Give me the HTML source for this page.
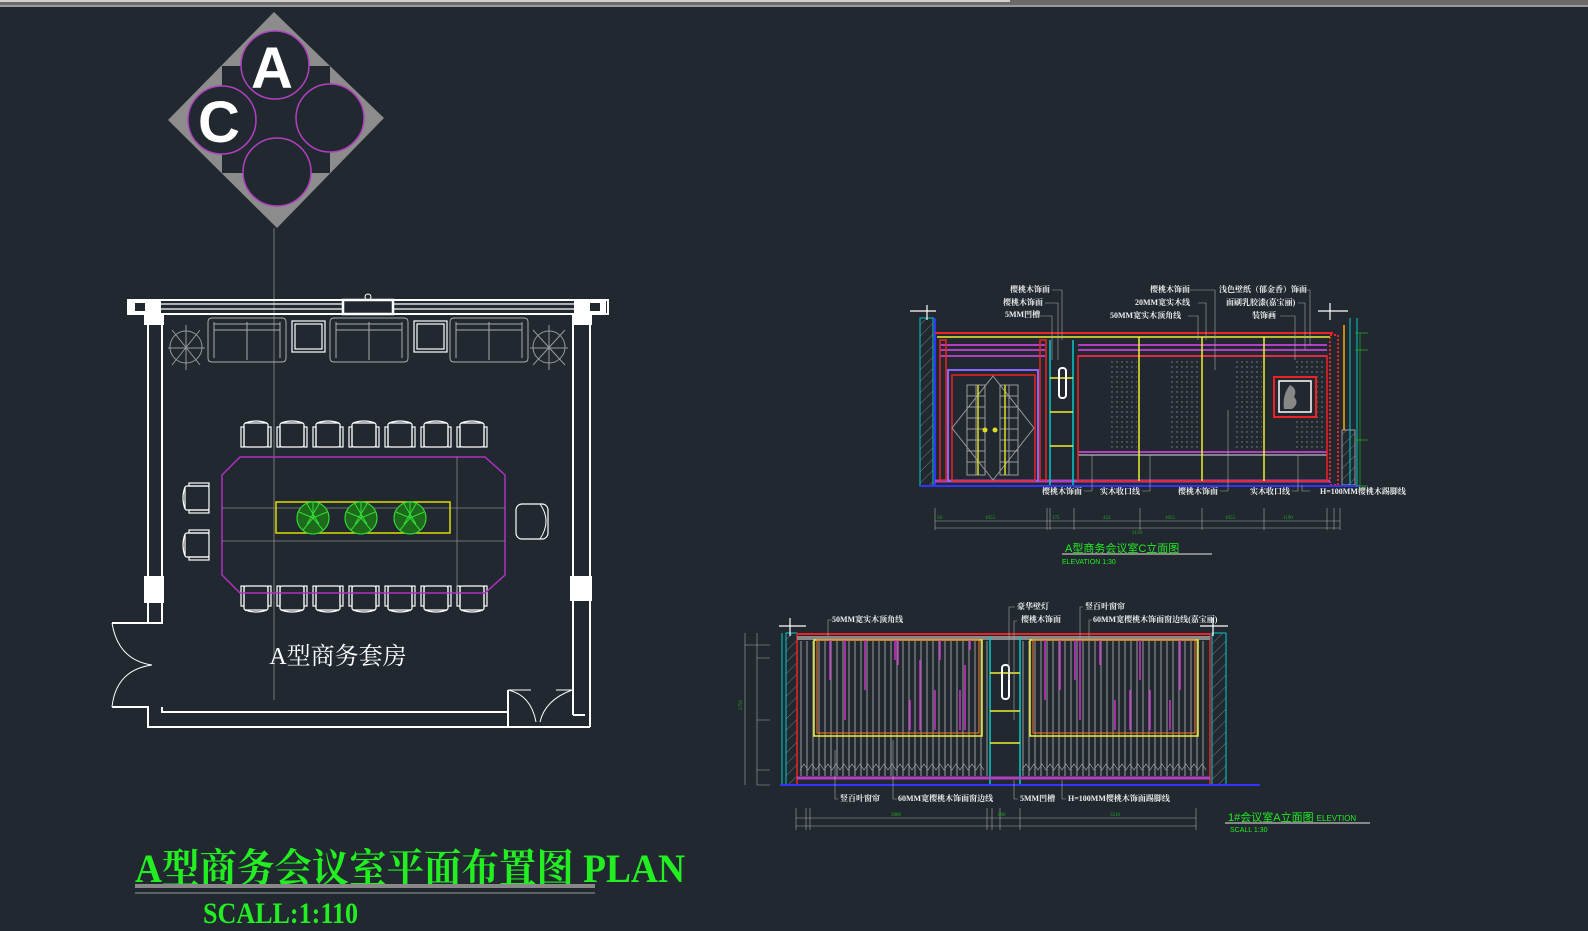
<!DOCTYPE html>
<html><head><meta charset="utf-8"><style>
html,body{margin:0;padding:0;background:#212830;}
svg{display:block}
text{font-family:"Liberation Serif","Noto Serif CJK SC","Noto Sans CJK SC",serif;}
.s{font-family:"Liberation Sans","Noto Sans CJK SC",sans-serif;}
</style></head><body>
<svg width="1588" height="931" viewBox="0 0 1588 931" xmlns="http://www.w3.org/2000/svg">
<defs>
<pattern id="blind" width="6" height="10" patternUnits="userSpaceOnUse"><line x1="3" y1="0" x2="3" y2="10" stroke="#aaa" stroke-width="0.9"/></pattern>
<pattern id="hatch" width="8" height="8" patternUnits="userSpaceOnUse" patternTransform="rotate(45)"><line x1="0" y1="0" x2="0" y2="8" stroke="#8a8a8a" stroke-width="0.8"/></pattern>
<pattern id="dots" width="5" height="5" patternUnits="userSpaceOnUse"><circle cx="2" cy="2" r="0.7" fill="#8a8a8a"/></pattern>
<g id="chair" fill="none" stroke="#fff" stroke-width="1.2">
<rect x="3" y="2" width="24" height="24" rx="2"/>
<rect x="0" y="6" width="3" height="20"/><rect x="27" y="6" width="3" height="20"/>
<path d="M4 2 Q15 -2 26 2"/>
</g>
<g id="sofa" fill="none" stroke="#aaa" stroke-width="1">
<path d="M4 0 H74 Q78 0 78 4 V40 Q78 44 74 44 H4 Q0 44 0 40 V4 Q0 0 4 0Z"/>
<line x1="6" y1="6" x2="72" y2="6"/><line x1="6" y1="12" x2="72" y2="12"/>
<line x1="6" y1="4" x2="6" y2="40"/><line x1="72" y1="4" x2="72" y2="40"/>
<line x1="39" y1="4" x2="39" y2="42"/>
</g>
<g id="plant" stroke="#33dd33" stroke-width="1" fill="none">
<circle r="16" fill="#1d6a1d"/><circle r="16"/><path d="M-14 -6 L0 0 L14 -6 M-10 12 L0 0 L10 12 M0 -16 L0 0 M-6 -14 L6 6 M6 -14 L-6 6"/>
</g>
</defs>

<rect width="1588" height="931" fill="#212830"/>
<rect x="0" y="0" width="1588" height="7" fill="#6a6a6a"/>
<rect x="0" y="0" width="1010" height="2" fill="#cfcfcf"/>
<rect x="0" y="5" width="1588" height="2" fill="#9a9a9a"/>

<line x1="274" y1="228" x2="274" y2="700" stroke="#777" stroke-width="1"/>
<polygon points="274,12 384,118 277,228 168,120" fill="#8c8c8c"/>
<rect x="222" y="66" width="108" height="107" fill="#212830"/>
<g fill="#212830" stroke="#b040c0" stroke-width="1.5">
<circle cx="275" cy="65" r="34"/><circle cx="222" cy="120" r="34"/><circle cx="330" cy="118" r="34"/><circle cx="277" cy="172" r="34"/>
</g>
<text x="272" y="88" class="s" font-size="58" font-weight="bold" fill="#fff" text-anchor="middle">A</text>
<text x="219" y="142" class="s" font-size="58" font-weight="bold" fill="#fff" text-anchor="middle">C</text>

<g fill="none" stroke="#fff" stroke-width="2">
<rect x="128" y="300" width="480" height="14" fill="none"/>
<line x1="160" y1="304" x2="575" y2="304" stroke-width="1.2"/><line x1="160" y1="309" x2="575" y2="309" stroke-width="1.2"/>
<rect x="343" y="300" width="50" height="14" fill="#212830" stroke-width="2.5"/>
<circle cx="368" cy="297" r="3" stroke-width="1"/>
<rect x="130" y="302" width="30" height="12" fill="#fff"/><rect x="575" y="302" width="30" height="12" fill="#fff"/>
<rect x="135" y="303" width="10" height="8" fill="#212830" stroke="none"/><rect x="590" y="303" width="10" height="8" fill="#212830" stroke="none"/>
<rect x="145" y="314" width="18" height="10" fill="#fff"/><rect x="573" y="314" width="18" height="10" fill="#fff"/>
<path d="M148 324 V623 H162 V324"/>
<rect x="145" y="577" width="18" height="25" fill="#fff"/>
<path d="M112 623 H162 M112 707 H148 V727 H572 M148 707 V727"/>
<path d="M162 707 V712 H508 V727"/>
<path d="M573 324 V715 M590 324 V727 M572 727 H590 M573 715 H585"/>
<rect x="571" y="577" width="20" height="23" fill="#fff"/>
<path d="M112 623 V623 Q118 660 152 665 M112 707 Q116 670 152 665" stroke-width="1"/>
<path d="M508 690 H531 M572 690 H556 M508 690 Q531 695 536 722 M572 690 Q545 700 540 722" stroke-width="1"/>
<line x1="508" y1="690" x2="508" y2="727"/>
</g>

<use href="#sofa" x="208" y="318"/><use href="#sofa" x="330" y="318"/><use href="#sofa" x="450" y="318"/>
<g fill="none" stroke="#fff" stroke-width="1.2"><rect x="292" y="321" width="33" height="31"/><rect x="295" y="324" width="27" height="25"/><rect x="414" y="321" width="33" height="31"/><rect x="417" y="324" width="27" height="25"/></g>
<g stroke="#999" fill="none" stroke-width="1">
<path d="M172 330 L200 365 M200 330 L172 365 M168 348 H205 M186 325 V370"/><circle cx="186" cy="347" r="16"/>
<path d="M533 330 L565 365 M565 330 L533 365 M530 348 H568 M549 325 V370"/><circle cx="549" cy="347" r="16"/>
</g>
<g>
<use href="#chair" x="241" y="421"/><use href="#chair" x="277" y="421"/><use href="#chair" x="313" y="421"/><use href="#chair" x="349" y="421"/><use href="#chair" x="385" y="421"/><use href="#chair" x="421" y="421"/><use href="#chair" x="457" y="421"/>
<g transform="translate(0,1033) scale(1,-1)"><use href="#chair" x="241" y="421"/><use href="#chair" x="277" y="421"/><use href="#chair" x="313" y="421"/><use href="#chair" x="349" y="421"/><use href="#chair" x="385" y="421"/><use href="#chair" x="421" y="421"/><use href="#chair" x="457" y="421"/></g>
<g transform="translate(183,513) rotate(-90)"><use href="#chair"/></g>
<g transform="translate(183,560) rotate(-90)"><use href="#chair"/></g>
<rect x="516" y="504" width="32" height="35" rx="6" fill="none" stroke="#fff" stroke-width="1.2"/><path d="M540 504 Q552 521 540 539" fill="none" stroke="#fff"/>
</g>
<polygon points="240,457 485,457 505,475 505,575 485,593 240,593 222,575 222,475" fill="none" stroke="#b030c0" stroke-width="1.5"/>
<g stroke="#888" stroke-width="0.8"><line x1="222" y1="508" x2="505" y2="508"/><line x1="222" y1="541" x2="505" y2="541"/><line x1="457" y1="457" x2="457" y2="593"/></g>
<rect x="276" y="502" width="174" height="31" fill="none" stroke="#dddd00" stroke-width="1.5"/>
<use href="#plant" x="313" y="518"/><use href="#plant" x="361" y="518"/><use href="#plant" x="410" y="518"/>
<text x="338" y="664" font-size="24" fill="#fff" text-anchor="middle">A型商务套房</text>

<text x="135" y="882" font-size="40" font-weight="bold" fill="#22ee22" textLength="550" lengthAdjust="spacingAndGlyphs">A型商务会议室平面布置图 PLAN</text>
<rect x="135" y="884" width="460" height="4" fill="#888"/>
<line x1="135" y1="893" x2="595" y2="893" stroke="#999" stroke-width="1"/>
<text x="203" y="923" font-size="30" font-weight="bold" fill="#22ee22" textLength="155" lengthAdjust="spacingAndGlyphs">SCALL:1:110</text>

<g>
<rect x="920" y="318" width="13" height="168" fill="url(#hatch)" stroke="#00cccc" stroke-width="1"/>
<line x1="935" y1="318" x2="935" y2="486" stroke="#3333ff" stroke-width="2"/>
<rect x="1342" y="430" width="13" height="55" fill="url(#hatch)" stroke="#bbb" stroke-width="0.8"/>
<line x1="1350" y1="318" x2="1350" y2="486" stroke="#00cccc"/><line x1="1357" y1="318" x2="1357" y2="486" stroke="#00cccc"/>
<line x1="1344" y1="325" x2="1344" y2="430" stroke="#ffaa00" stroke-width="1.5"/>
<rect x="1330" y="335" width="8" height="150" fill="none" stroke="#ee2222" stroke-width="2" stroke-dasharray="2 2"/>
<path d="M910 311 H936 M927 305 V320 M1318 311 H1348 M1330 303 V320" stroke="#fff" stroke-width="1.2"/>
<line x1="935" y1="333" x2="1333" y2="333" stroke="#ee2222" stroke-width="2"/>
<line x1="937" y1="337" x2="1330" y2="337" stroke="#eeee33" stroke-width="1.5"/>
<g stroke="#b040c0" stroke-width="2"><line x1="940" y1="345" x2="1045" y2="345"/><line x1="940" y1="350" x2="1045" y2="350"/><line x1="940" y1="356" x2="1045" y2="356"/>
<line x1="1078" y1="345" x2="1327" y2="345"/><line x1="1078" y1="350" x2="1327" y2="350"/><line x1="1078" y1="356" x2="1327" y2="356"/>
<line x1="1078" y1="452" x2="1327" y2="452"/><line x1="935" y1="481" x2="1330" y2="481" stroke-width="3"/></g>
<line x1="920" y1="486" x2="1360" y2="486" stroke="#3333ff" stroke-width="2"/>
<line x1="1078" y1="455" x2="1327" y2="455" stroke="#ddd" stroke-width="1"/>
<rect x="940" y="340" width="6" height="140" fill="none" stroke="#ee2222" stroke-width="1.5"/>
<rect x="1040" y="340" width="6" height="140" fill="none" stroke="#ee2222" stroke-width="1.5"/>
<rect x="948" y="370" width="90" height="111" fill="none" stroke="#8866ff" stroke-width="2"/>
<rect x="952" y="375" width="83" height="106" fill="none" stroke="#ee2222" stroke-width="1.5"/>
<g stroke="#999" fill="none" stroke-width="1">
<polygon points="993,376 1034,428 993,480 952,428"/>
<rect x="967" y="385" width="18" height="90"/><rect x="1000" y="385" width="18" height="90"/>
<path d="M967 396H985M967 407H985M967 418H985M967 429H985M967 440H985M967 451H985M967 462H985M1000 396H1018M1000 407H1018M1000 418H1018M1000 429H1018M1000 440H1018M1000 451H1018M1000 462H1018M976 385V475M1009 385V475"/>
</g>
<path d="M978 385V475 M1005 385V475" stroke="#dddd22" stroke-width="1.5"/>
<circle cx="985" cy="430" r="2.5" fill="#dddd22"/><circle cx="995" cy="430" r="2.5" fill="#dddd22"/>
<g stroke="#00cccc" stroke-width="1.5"><line x1="1050" y1="340" x2="1050" y2="485"/><line x1="1073" y1="340" x2="1073" y2="485"/></g>
<g stroke="#eeee33" stroke-width="1.5"><line x1="1050" y1="378" x2="1073" y2="378"/><line x1="1050" y1="412" x2="1073" y2="412"/><line x1="1050" y1="446" x2="1073" y2="446"/></g>
<rect x="1059" y="368" width="7" height="30" rx="3" fill="none" stroke="#fff" stroke-width="2"/>
<rect x="1078" y="356" width="249" height="125" fill="none" stroke="#ee2222" stroke-width="1.5"/>
<rect x="1108" y="358" width="29" height="93" fill="url(#dots)"/><rect x="1171" y="358" width="29" height="93" fill="url(#dots)"/><rect x="1233" y="358" width="29" height="93" fill="url(#dots)"/><rect x="1296" y="358" width="28" height="93" fill="url(#dots)"/>
<g stroke="#eeee33" stroke-width="1.5"><line x1="1139" y1="337" x2="1139" y2="481"/><line x1="1202" y1="337" x2="1202" y2="481"/><line x1="1264" y1="337" x2="1264" y2="481"/></g>
<rect x="1274" y="377" width="42" height="40" fill="#212830" stroke="#ee2222" stroke-width="2"/>
<rect x="1279" y="381" width="32" height="31" fill="none" stroke="#fff" stroke-width="1.5"/>
<path d="M1290 385 q8 4 4 12 q6 6 -2 12 h-8 q-2 -14 6 -24z" fill="#888"/>
</g>
<g class="s" font-size="8" fill="#eee" font-weight="bold">
<text x="1010" y="292">樱桃木饰面</text><text x="1003" y="305">樱桃木饰面</text><text x="1005" y="317">5MM凹槽</text>
<text x="1150" y="292">樱桃木饰面</text><text x="1135" y="305">20MM宽实木线</text><text x="1110" y="318">50MM宽实木顶角线</text>
<text x="1219" y="292">浅色壁纸（郁金香）饰面</text><text x="1226" y="305">面刷乳胶漆(嘉宝丽)</text><text x="1252" y="318">装饰画</text>
<text x="1042" y="494">樱桃木饰面</text><text x="1100" y="494">实木收口线</text><text x="1178" y="494">樱桃木饰面</text><text x="1250" y="494">实木收口线</text><text x="1320" y="494">H=100MM樱桃木踢脚线</text>
</g>
<g stroke="#aaa" stroke-width="0.6" fill="none">
<path d="M1052 290 H1062 V340 M1045 303 H1058 V360 M1040 316 H1052 V360 M1190 290 H1215 V370 M1198 303 H1206 V340 M1188 316 H1198 V340 M1298 290 H1310 V345 M1298 303 H1305 V350 M1280 316 H1295 V360"/>
<path d="M1084 491 H1092 V455 M1142 491 H1150 V455 M1220 491 H1228 V410 M1292 491 H1298 V455 M1310 491 H1302 V485"/>
<line x1="935" y1="521" x2="1340" y2="521"/><line x1="935" y1="528" x2="1340" y2="528"/>
<path d="M935 508V530M1047 508V530M1050 508V530M1074 508V530M1140 508V530M1202 508V530M1264 508V530M1327 508V530M1334 508V530M1340 508V530"/>
</g>
<g class="s" font-size="5" fill="#22aa22"><text x="937" y="519">50</text><text x="985" y="519">1055</text><text x="1052" y="519">175</text><text x="1103" y="519">422</text><text x="1165" y="519">1055</text><text x="1225" y="519">1055</text><text x="1283" y="519">1190</text><text x="1132" y="534">2150</text></g>
<g stroke="#22aa22" stroke-width="0.7" fill="none"><line x1="1360" y1="333" x2="1360" y2="486"/><path d="M1355 333H1368M1355 350H1368M1355 440H1368M1355 486H1368"/></g>
<text x="1065" y="552" class="s" font-size="11" fill="#22ee22">A型商务会议室C立面图</text>
<rect x="1062" y="553" width="150" height="2" fill="#888"/>
<text x="1062" y="564" class="s" font-size="7" fill="#22ee22">ELEVATION 1:30</text>

<g>
<rect x="786" y="633" width="11" height="152" fill="url(#hatch)" stroke="#00cccc" stroke-width="1"/>
<rect x="1212" y="633" width="14" height="152" fill="url(#hatch)" stroke="#00cccc" stroke-width="1"/>
<line x1="782" y1="633" x2="782" y2="785" stroke="#00cccc"/>
<line x1="797" y1="633" x2="797" y2="785" stroke="#ee2222" stroke-width="1.5"/><line x1="1210" y1="633" x2="1210" y2="785" stroke="#ee2222" stroke-width="1.5"/>
<path d="M779 626 H806 M790 618 V636 M1200 626 H1228 M1213 618 V636" stroke="#fff" stroke-width="1.2"/>
<rect x="800" y="641" width="188" height="135" fill="url(#blind)"/>
<rect x="1022" y="641" width="186" height="135" fill="url(#blind)"/>
<line x1="797" y1="634" x2="1210" y2="634" stroke="#ee2222" stroke-width="2"/>
<rect x="797" y="636" width="413" height="4" fill="#888"/>
<rect x="814" y="640" width="168" height="96" fill="none" stroke="#eeee33" stroke-width="1.5"/>
<rect x="817" y="640" width="162" height="93" fill="none" stroke="#ff7722" stroke-width="1"/>
<rect x="1030" y="640" width="168" height="96" fill="none" stroke="#eeee33" stroke-width="1.5"/>
<rect x="1033" y="640" width="162" height="93" fill="none" stroke="#ff7722" stroke-width="1"/>
<g stroke="#cc33cc" stroke-width="1.5">
<path d="M830 640V680M845 640V720M865 640V690M895 640V660M898 640V665M910 700V730M920 660V730M935 690V730M940 640V660M960 690V730M965 665V730M970 640V650"/>
<path d="M1045 640V700M1060 640V690M1075 640V680M1080 640V720M1100 640V665M1115 700V730M1130 690V730M1140 640V680M1150 690V730M1170 700V730M1180 640V690"/>
</g>
<rect x="990" y="640" width="30" height="142" fill="#212830"/>
<g stroke="#00cccc" stroke-width="1.5"><line x1="990" y1="636" x2="990" y2="785"/><line x1="1020" y1="636" x2="1020" y2="785"/></g>
<g stroke="#eeee33" stroke-width="1.5"><line x1="990" y1="673" x2="1020" y2="673"/><line x1="990" y1="711" x2="1020" y2="711"/><line x1="990" y1="743" x2="1020" y2="743"/></g>
<rect x="1002" y="665" width="7" height="34" rx="3" fill="none" stroke="#fff" stroke-width="2"/>
<path d="M800 770 l4 -6 l4 6 l4 -6 l4 6 l4 -6 l4 6 l4 -6 l4 6 l4 -6 l4 6 l4 -6 l4 6 l4 -6 l4 6 l4 -6 l4 6 l4 -6 l4 6 l4 -6 l4 6 l4 -6 l4 6 l4 -6 l4 6 l4 -6 l4 6 l4 -6 l4 6 l4 -6 l4 6 l4 -6 l4 6 l4 -6 l4 6 l4 -6 l4 6 l4 -6 l4 6 l4 -6 l4 6 l4 -6 l4 6 l4 -6 l4 6 l4 -6 l4 6" fill="none" stroke="#999" stroke-width="0.7"/>
<path d="M1022 770 l4 -6 l4 6 l4 -6 l4 6 l4 -6 l4 6 l4 -6 l4 6 l4 -6 l4 6 l4 -6 l4 6 l4 -6 l4 6 l4 -6 l4 6 l4 -6 l4 6 l4 -6 l4 6 l4 -6 l4 6 l4 -6 l4 6 l4 -6 l4 6 l4 -6 l4 6 l4 -6 l4 6 l4 -6 l4 6 l4 -6 l4 6 l4 -6 l4 6 l4 -6 l4 6 l4 -6 l4 6 l4 -6 l4 6 l4 -6 l4 6 l4 -6 l4 6" fill="none" stroke="#999" stroke-width="0.7"/>
<line x1="797" y1="778" x2="1210" y2="778" stroke="#b040c0" stroke-width="3"/>
<line x1="780" y1="785" x2="1260" y2="785" stroke="#3333ff" stroke-width="2"/>
</g>
<g stroke="#aaa" stroke-width="0.6" fill="none">
<line x1="745" y1="633" x2="745" y2="785"/><line x1="757" y1="633" x2="757" y2="785"/>
<path d="M745 645H770M757 658H770M757 720H770M757 770H770M757 785H770"/>
<path d="M832 620H828V636 M1015 607H1009V680 M1017 621H1014V720 M1083 607H1080V640 M1092 620H1089V640 M838 799H835V750 M897 799H893V740 M1018 799H1014V780 M1066 799H1062V780"/>
<line x1="796" y1="818" x2="1196" y2="818"/><line x1="796" y1="826" x2="1196" y2="826"/>
<path d="M796 808V830M806 808V830M810 808V830M987 808V830M992 808V830M1000 808V830M1020 808V830M1196 808V830"/>
</g>
<g class="s" font-size="5" fill="#22aa22"><text x="742" y="710" transform="rotate(-90 742 710)">2750</text><text x="891" y="816">2880</text><text x="998" y="816">800</text><text x="1110" y="816">3210</text></g>
<g class="s" font-size="8" fill="#eee" font-weight="bold">
<text x="832" y="622">50MM宽实木顶角线</text><text x="1017" y="609">豪华壁灯</text><text x="1021" y="622">樱桃木饰面</text><text x="1085" y="609">竖百叶窗帘</text><text x="1093" y="622">60MM宽樱桃木饰面窗边线(嘉宝丽)</text>
<text x="840" y="801">竖百叶窗帘</text><text x="898" y="801">60MM宽樱桃木饰面窗边线</text><text x="1020" y="801">5MM凹槽</text><text x="1068" y="801">H=100MM樱桃木饰面踢脚线</text>
</g>
<text x="1228" y="821" class="s" font-size="11" fill="#22ee22">1#会议室A立面图 <tspan font-size="8">ELEVTION</tspan></text>
<rect x="1225" y="822" width="145" height="2" fill="#888"/>
<text x="1230" y="832" class="s" font-size="7" fill="#22ee22">SCALL  1:30</text>
</svg>
</body></html>
